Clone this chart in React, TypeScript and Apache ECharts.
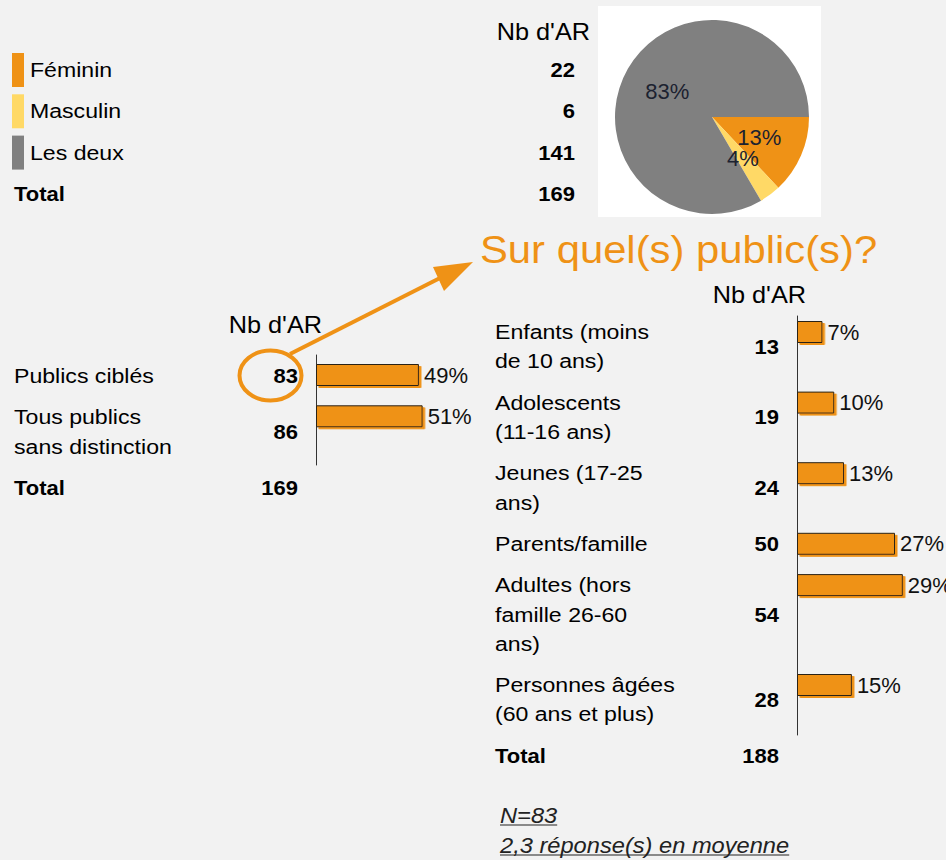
import React, { useEffect, useRef } from "react";
import * as echarts from "echarts";

// ---------- data ----------
const genderLabels = ["Féminin", "Masculin", "Les deux"];
const genderCounts = [22, 6, 141];
const genderTotal = 169;
const genderColors = ["#EF9216", "#FFD966", "#808080"];

const scopeLabels = ["Publics ciblés", "Tous publics\nsans distinction"];
const scopeCounts = [83, 86];
const scopePct = [49, 51];
const scopeTotal = 169;

const publicLabels = [
  "Enfants (moins\nde 10 ans)",
  "Adolescents\n(11-16 ans)",
  "Jeunes (17-25\nans)",
  "Parents/famille",
  "Adultes (hors\nfamille 26-60\nans)",
  "Personnes âgées\n(60 ans et plus)",
];
const publicCounts = [13, 19, 24, 50, 54, 28];
const publicPct = [7, 10, 13, 27, 29, 15];
const publicTotal = 188;

const headerText = "Nb d'AR";
const totalText = "Total";
const titleText = "Sur quel(s) public(s)?";
const footnotes = ["N=83", "2,3 réponse(s) en moyenne"];

// ---------- style ----------
const ORANGE = "#EF9216";
const BG = "#F2F2F2";
const FONT = '"Liberation Sans", Arial, Helvetica, sans-serif';
const SX = 1.1;
const LINE = 29.3;
const GAP = 12;

function layoutRows(startY: number, labels: string[]) {
  let y = startY;
  const rows = labels.map((l) => {
    const n = l.split("\n").length;
    const first = y;
    const mid = y + ((n - 1) * LINE) / 2;
    y += n * LINE + GAP;
    return { first, mid, n };
  });
  return { rows, next: y };
}

function txt(
  x: number,
  y: number,
  text: string,
  o: { size?: number; bold?: boolean; italic?: boolean; align?: string; color?: string; sx?: number } = {}
) {
  const size = o.size ?? 21;
  const font = `${o.italic ? "italic " : ""}${o.bold ? "bold " : ""}${size}px ${FONT}`;
  return {
    type: "text",
    x,
    y,
    scaleX: o.sx ?? SX,
    z: 20,
    style: {
      text,
      x: 0,
      y: 0,
      font,
      fill: o.color ?? "#000",
      textAlign: o.align ?? "left",
      textVerticalAlign: "middle",
    },
  };
}

// one text element per line, first line centred on y
function multi(x: number, y: number, text: string, o: any = {}) {
  return text.split("\n").map((line, k) => txt(x, y + k * LINE, line, o));
}

function measure(text: string, font: string) {
  const c = document.createElement("canvas").getContext("2d");
  if (!c) return text.length * 10;
  c.font = font;
  return c.measureText(text).width;
}

export default function App() {
  const ref = useRef<HTMLDivElement>(null);

  useEffect(() => {
    if (!ref.current) return;
    const chart = echarts.init(ref.current, undefined, { renderer: "svg" });

    const graphic: any[] = [];
    const grids: any[] = [];
    const xAxes: any[] = [];
    const yAxes: any[] = [];
    const series: any[] = [];

    // ---- top table (gender) ----
    graphic.push(txt(590, 32, headerText, { size: 23, align: "right" }));
    const top = layoutRows(70, genderLabels);
    top.rows.forEach((r, i) => {
      graphic.push({
        type: "rect",
        shape: { x: 12, y: r.first - 17, width: 12, height: 34 },
        style: { fill: genderColors[i] },
        z: 20,
      });
      graphic.push(txt(30, r.first, genderLabels[i]));
      graphic.push(txt(575, r.first, String(genderCounts[i]), { size: 20, bold: true, align: "right" }));
    });
    graphic.push(txt(14, top.next, totalText, { size: 20, bold: true }));
    graphic.push(txt(575, top.next, String(genderTotal), { size: 20, bold: true, align: "right" }));

    // pie background
    graphic.push({
      type: "rect",
      shape: { x: 598, y: 6, width: 223, height: 211 },
      style: { fill: "#FFFFFF" },
      z: 0,
    });

    // ---- title ----
    graphic.push(txt(480, 250, titleText, { size: 38, color: ORANGE }));

    // ---- bar style ----
    const barItem = {
      color: ORANGE,
      borderColor: "#2b2218",
      borderWidth: 1,
      shadowColor: ORANGE,
      shadowBlur: 0,
      shadowOffsetX: 2.5,
      shadowOffsetY: 2,
    };

    function addBarRow(left: number, width: number, max: number, centerY: number, name: string, value: number, pct: number) {
      const i = grids.length;
      grids.push({ left, top: centerY - 15, width, height: 30, containLabel: false });
      xAxes.push({ type: "value", gridIndex: i, min: 0, max, show: false });
      yAxes.push({ type: "category", gridIndex: i, data: [name], show: false });
      series.push({
        type: "bar",
        name,
        xAxisIndex: i,
        yAxisIndex: i,
        data: [value],
        barWidth: 22,
        itemStyle: barItem,
        label: {
          show: true,
          position: "right",
          distance: 5,
          formatter: `${pct}%`,
          fontSize: 22,
          fontFamily: FONT,
          color: "#111",
        },
        z: 5,
      });
    }

    function addAxisLine(left: number, topY: number, height: number) {
      const i = grids.length;
      grids.push({ left, top: topY, width: 50, height, containLabel: false });
      xAxes.push({ type: "value", gridIndex: i, min: 0, max: 1, show: false });
      yAxes.push({
        type: "value",
        gridIndex: i,
        min: 0,
        max: 1,
        axisLine: { show: true, onZero: false, lineStyle: { color: "#333", width: 1 } },
        axisTick: { show: false },
        axisLabel: { show: false },
        splitLine: { show: false },
      });
    }

    // ---- left table (scope) ----
    graphic.push(txt(322, 325, headerText, { size: 23, align: "right" }));
    const left = layoutRows(376, scopeLabels);
    left.rows.forEach((r, i) => {
      graphic.push(...multi(14, r.first, scopeLabels[i]));
      graphic.push(txt(298, r.mid, String(scopeCounts[i]), { size: 20, bold: true, align: "right" }));
      addBarRow(316, 124, 100, r.first - 1, scopeLabels[i], scopeCounts[i], scopePct[i]);
    });
    graphic.push(txt(14, left.next, totalText, { size: 20, bold: true }));
    graphic.push(txt(298, left.next, String(scopeTotal), { size: 20, bold: true, align: "right" }));
    addAxisLine(316, 355, 110);

    // ---- right table (publics) ----
    graphic.push(txt(806, 295, headerText, { size: 23, align: "right" }));
    const right = layoutRows(332, publicLabels);
    right.rows.forEach((r, i) => {
      graphic.push(...multi(495, r.first, publicLabels[i]));
      graphic.push(txt(779, r.mid, String(publicCounts[i]), { size: 20, bold: true, align: "right" }));
      addBarRow(797, 117.6, 60, r.first, publicLabels[i], publicCounts[i], publicPct[i]);
    });
    graphic.push(txt(495, right.next, totalText, { size: 20, bold: true }));
    graphic.push(txt(779, right.next, String(publicTotal), { size: 20, bold: true, align: "right" }));
    addAxisLine(797, 316, 419);

    // ---- ellipse + arrow ----
    graphic.push({
      type: "ellipse",
      shape: { cx: 270.5, cy: 375.5, rx: 31, ry: 25 },
      style: { fill: "none", stroke: ORANGE, lineWidth: 4 },
      z: 30,
    });
    graphic.push({
      type: "line",
      shape: { x1: 290, y1: 354, x2: 442, y2: 277 },
      style: { stroke: ORANGE, lineWidth: 4 },
      z: 30,
    });
    graphic.push({
      type: "polygon",
      shape: { points: [[473, 262], [433, 267], [444, 291]] },
      style: { fill: ORANGE },
      z: 30,
    });

    // ---- footnotes ----
    const fSize = 21.5;
    const fFont = `italic ${fSize}px ${FONT}`;
    footnotes.forEach((t, i) => {
      const cy = 816 + i * 30;
      graphic.push(txt(500, cy, t, { size: fSize, italic: true, color: "#222" }));
      const w = measure(t, fFont) * SX;
      graphic.push({
        type: "line",
        shape: { x1: 500, y1: cy + 9, x2: 500 + w, y2: cy + 9 },
        style: { stroke: "#222", lineWidth: 1 },
        z: 20,
      });
    });

    // ---- pie ----
    series.push({
      type: "pie",
      center: [712, 117],
      radius: 97,
      startAngle: 0,
      clockwise: true,
      avoidLabelOverlap: false,
      labelLayout: { hideOverlap: false },
      z: 3,
      label: {
        show: true,
        position: "inside",
        fontSize: 22,
        fontFamily: FONT,
        color: "#1c2230",
        formatter: (p: any) => `${Math.round(p.percent)}%`,
      },
      labelLine: { show: false },
      emphasis: { disabled: true },
      data: genderLabels.map((name, i) => ({
        name,
        value: genderCounts[i],
        itemStyle: { color: genderColors[i] },
      })),
    });

    chart.setOption({
      animation: false,
      backgroundColor: BG,
      tooltip: { show: false },
      grid: grids,
      xAxis: xAxes,
      yAxis: yAxes,
      series,
      graphic: { elements: graphic },
    });

    return () => chart.dispose();
  }, []);

  return (
    <div
      ref={ref}
      style={{ position: "absolute", left: 0, top: 0, width: 946, height: 860, background: BG }}
    />
  );
}
